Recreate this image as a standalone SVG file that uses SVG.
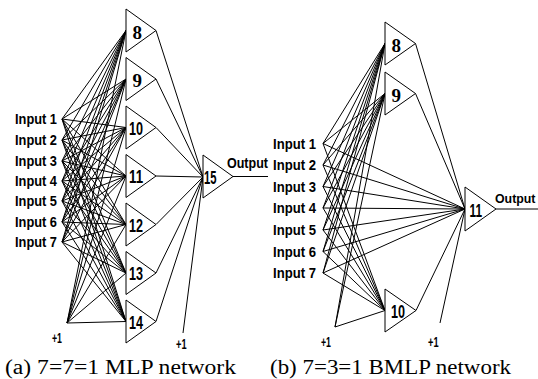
<svg xmlns="http://www.w3.org/2000/svg" width="538" height="379" viewBox="0 0 538 379">
  <style>
    .bg { fill: #ffffff; }
    .wire { fill: none; stroke: #000000; stroke-width: 1; }
    .unit { fill: #ffffff; stroke: #000000; stroke-width: 1; stroke-linejoin: miter; }
    .lbl { font-family: "Liberation Sans", Arial, sans-serif; font-weight: bold; font-size: 14.5px; fill: #000000; }
    .bias { font-family: "Liberation Sans", Arial, sans-serif; font-weight: bold; font-size: 15px; fill: #000000; }
    .num { font-family: "Liberation Sans", Arial, sans-serif; font-weight: bold; font-size: 18.5px; fill: #000000; }
    .num1 { font-family: "Liberation Serif", "Times New Roman", serif; font-weight: bold; font-size: 19px; fill: #000000; }
    .cap { font-family: "Liberation Serif", "Times New Roman", serif; font-size: 20px; fill: #000000; }
  </style>
  <rect class="bg" x="0" y="0" width="538" height="379"/>

  <!-- all weights, drawn beneath the units -->
  <g id="connectors" class="wire">
    <!-- (a) inputs to hidden units 8..14 -->
    <path d="M62 119L126 30.5M62 119L126 79M62 119L126 127.5M62 119L126 176M62 119L126 224.5M62 119L126 273M62 119L126 321.5"/>
    <path d="M62 140L126 30.5M62 140L126 79M62 140L126 127.5M62 140L126 176M62 140L126 224.5M62 140L126 273M62 140L126 321.5"/>
    <path d="M62 161L126 30.5M62 161L126 79M62 161L126 127.5M62 161L126 176M62 161L126 224.5M62 161L126 273M62 161L126 321.5"/>
    <path d="M62 181L126 30.5M62 181L126 79M62 181L126 127.5M62 181L126 176M62 181L126 224.5M62 181L126 273M62 181L126 321.5"/>
    <path d="M62 201L126 30.5M62 201L126 79M62 201L126 127.5M62 201L126 176M62 201L126 224.5M62 201L126 273M62 201L126 321.5"/>
    <path d="M62 222L126 30.5M62 222L126 79M62 222L126 127.5M62 222L126 176M62 222L126 224.5M62 222L126 273M62 222L126 321.5"/>
    <path d="M62 242L126 30.5M62 242L126 79M62 242L126 127.5M62 242L126 176M62 242L126 224.5M62 242L126 273M62 242L126 321.5"/>
    <!-- (a) bias to hidden units -->
    <path d="M67 323L126 30.5M67 323L126 79M67 323L126 127.5M67 323L126 176M67 323L126 224.5M67 323L126 273M67 323L126 321.5"/>
    <!-- (a) hidden units to output unit 15 -->
    <path d="M156 30.5L203 177M156 79L203 177M156 127.5L203 177M156 176L203 177M156 224.5L203 177M156 273L203 177M156 321.5L203 177"/>
    <path d="M183 333L203 177"/>
    <path d="M233 176.5H268"/>

    <!-- (b) inputs to hidden units 8, 9, 10 and straight to output unit 11 -->
    <path d="M323 143.5L385 43.5M323 143.5L385 93.5M323 143.5L385 310.5M323 143.5L465 209"/>
    <path d="M323 165L385 43.5M323 165L385 93.5M323 165L385 310.5M323 165L465 209"/>
    <path d="M323 186.5L385 43.5M323 186.5L385 93.5M323 186.5L385 310.5M323 186.5L465 209"/>
    <path d="M323 208L385 43.5M323 208L385 93.5M323 208L385 310.5M323 208L465 209"/>
    <path d="M323 230L385 43.5M323 230L385 93.5M323 230L385 310.5M323 230L465 209"/>
    <path d="M323 251.5L385 43.5M323 251.5L385 93.5M323 251.5L385 310.5M323 251.5L465 209"/>
    <path d="M323 273L385 43.5M323 273L385 93.5M323 273L385 310.5M323 273L465 209"/>
    <!-- (b) bias to hidden units -->
    <path d="M335 327L385 43.5M335 327L385 93.5M335 327L385 310.5"/>
    <!-- (b) hidden units to output unit 11 -->
    <path d="M415.5 43.5L465 209M415.5 93.5L465 209M416 310.5L465 209"/>
    <path d="M440 323L465 209"/>
    <path d="M496 209H538"/>
  </g>

  <!-- (a) 7-7-1 MLP -->
  <g id="a-input1"><text class="lbl" x="57" y="124" text-anchor="end" textLength="42" lengthAdjust="spacingAndGlyphs">Input 1</text></g>
  <g id="a-input2"><text class="lbl" x="57" y="145" text-anchor="end" textLength="42" lengthAdjust="spacingAndGlyphs">Input 2</text></g>
  <g id="a-input3"><text class="lbl" x="57" y="166" text-anchor="end" textLength="42" lengthAdjust="spacingAndGlyphs">Input 3</text></g>
  <g id="a-input4"><text class="lbl" x="57" y="186" text-anchor="end" textLength="42" lengthAdjust="spacingAndGlyphs">Input 4</text></g>
  <g id="a-input5"><text class="lbl" x="57" y="206" text-anchor="end" textLength="42" lengthAdjust="spacingAndGlyphs">Input 5</text></g>
  <g id="a-input6"><text class="lbl" x="57" y="227" text-anchor="end" textLength="42" lengthAdjust="spacingAndGlyphs">Input 6</text></g>
  <g id="a-input7"><text class="lbl" x="57" y="247" text-anchor="end" textLength="42" lengthAdjust="spacingAndGlyphs">Input 7</text></g>
  <g id="a-bias1"><text class="bias" x="52" y="343" textLength="10" lengthAdjust="spacingAndGlyphs">+1</text></g>
  <g id="a-bias2"><text class="bias" x="176" y="348.5" textLength="10.5" lengthAdjust="spacingAndGlyphs">+1</text></g>

  <g id="a-unit8"><path class="unit" d="M126 9V52L156 30.5Z"/><text class="num1" x="132.5" y="38.5">8</text></g>
  <g id="a-unit9"><path class="unit" d="M126 57.5V100.5L156 79Z"/><text class="num1" x="132.5" y="87">9</text></g>
  <g id="a-unit10"><path class="unit" d="M126 106V149L156 127.5Z"/><text class="num" x="129" y="134.5" textLength="14" lengthAdjust="spacingAndGlyphs">10</text></g>
  <g id="a-unit11"><path class="unit" d="M126 154.5V197.5L156 176Z"/><text class="num" x="129" y="183" textLength="14" lengthAdjust="spacingAndGlyphs">11</text></g>
  <g id="a-unit12"><path class="unit" d="M126 203V246L156 224.5Z"/><text class="num" x="129" y="231.5" textLength="14" lengthAdjust="spacingAndGlyphs">12</text></g>
  <g id="a-unit13"><path class="unit" d="M126 251.5V294.5L156 273Z"/><text class="num" x="129" y="280" textLength="14" lengthAdjust="spacingAndGlyphs">13</text></g>
  <g id="a-unit14"><path class="unit" d="M126 300V343L156 321.5Z"/><text class="num" x="129" y="328.5" textLength="14" lengthAdjust="spacingAndGlyphs">14</text></g>
  <g id="a-unit15"><path class="unit" d="M203 155V198L233 176.5Z"/><text class="num" x="204" y="183.5" textLength="12.5" lengthAdjust="spacingAndGlyphs">15</text></g>
  <g id="a-output"><text class="lbl" x="227" y="168" textLength="41" lengthAdjust="spacingAndGlyphs">Output</text></g>

  <!-- (b) 7-3-1 BMLP -->
  <g id="b-input1"><text class="lbl" x="316" y="148.5" text-anchor="end" textLength="43" lengthAdjust="spacingAndGlyphs">Input 1</text></g>
  <g id="b-input2"><text class="lbl" x="316" y="170" text-anchor="end" textLength="43" lengthAdjust="spacingAndGlyphs">Input 2</text></g>
  <g id="b-input3"><text class="lbl" x="316" y="191.5" text-anchor="end" textLength="43" lengthAdjust="spacingAndGlyphs">Input 3</text></g>
  <g id="b-input4"><text class="lbl" x="316" y="213" text-anchor="end" textLength="43" lengthAdjust="spacingAndGlyphs">Input 4</text></g>
  <g id="b-input5"><text class="lbl" x="316" y="235" text-anchor="end" textLength="43" lengthAdjust="spacingAndGlyphs">Input 5</text></g>
  <g id="b-input6"><text class="lbl" x="316" y="256.5" text-anchor="end" textLength="43" lengthAdjust="spacingAndGlyphs">Input 6</text></g>
  <g id="b-input7"><text class="lbl" x="316" y="278" text-anchor="end" textLength="43" lengthAdjust="spacingAndGlyphs">Input 7</text></g>
  <g id="b-bias1"><text class="bias" x="321" y="347" textLength="10" lengthAdjust="spacingAndGlyphs">+1</text></g>
  <g id="b-bias2"><text class="bias" x="428" y="347" textLength="10.5" lengthAdjust="spacingAndGlyphs">+1</text></g>

  <g id="b-unit8"><path class="unit" d="M385 22V65L415.5 43.5Z"/><text class="num1" x="391.5" y="51.5">8</text></g>
  <g id="b-unit9"><path class="unit" d="M385 72V115L415.5 93.5Z"/><text class="num1" x="391.5" y="101.5">9</text></g>
  <g id="b-unit10"><path class="unit" d="M385 289V332L416 310.5Z"/><text class="num" x="391" y="318" textLength="14" lengthAdjust="spacingAndGlyphs">10</text></g>
  <g id="b-unit11"><path class="unit" d="M465 187V231L496 209Z"/><text class="num" x="469.5" y="216.5" textLength="12.5" lengthAdjust="spacingAndGlyphs">11</text></g>
  <g id="b-output"><text class="lbl" x="495" y="203" style="font-size:12.5px" textLength="40.5" lengthAdjust="spacingAndGlyphs">Output</text></g>

  <!-- captions -->
  <text class="cap" x="5" y="374" textLength="231" lengthAdjust="spacingAndGlyphs">(a) 7=7=1 MLP network</text>
  <text class="cap" x="270" y="374" textLength="241" lengthAdjust="spacingAndGlyphs">(b) 7=3=1 BMLP network</text>
</svg>
